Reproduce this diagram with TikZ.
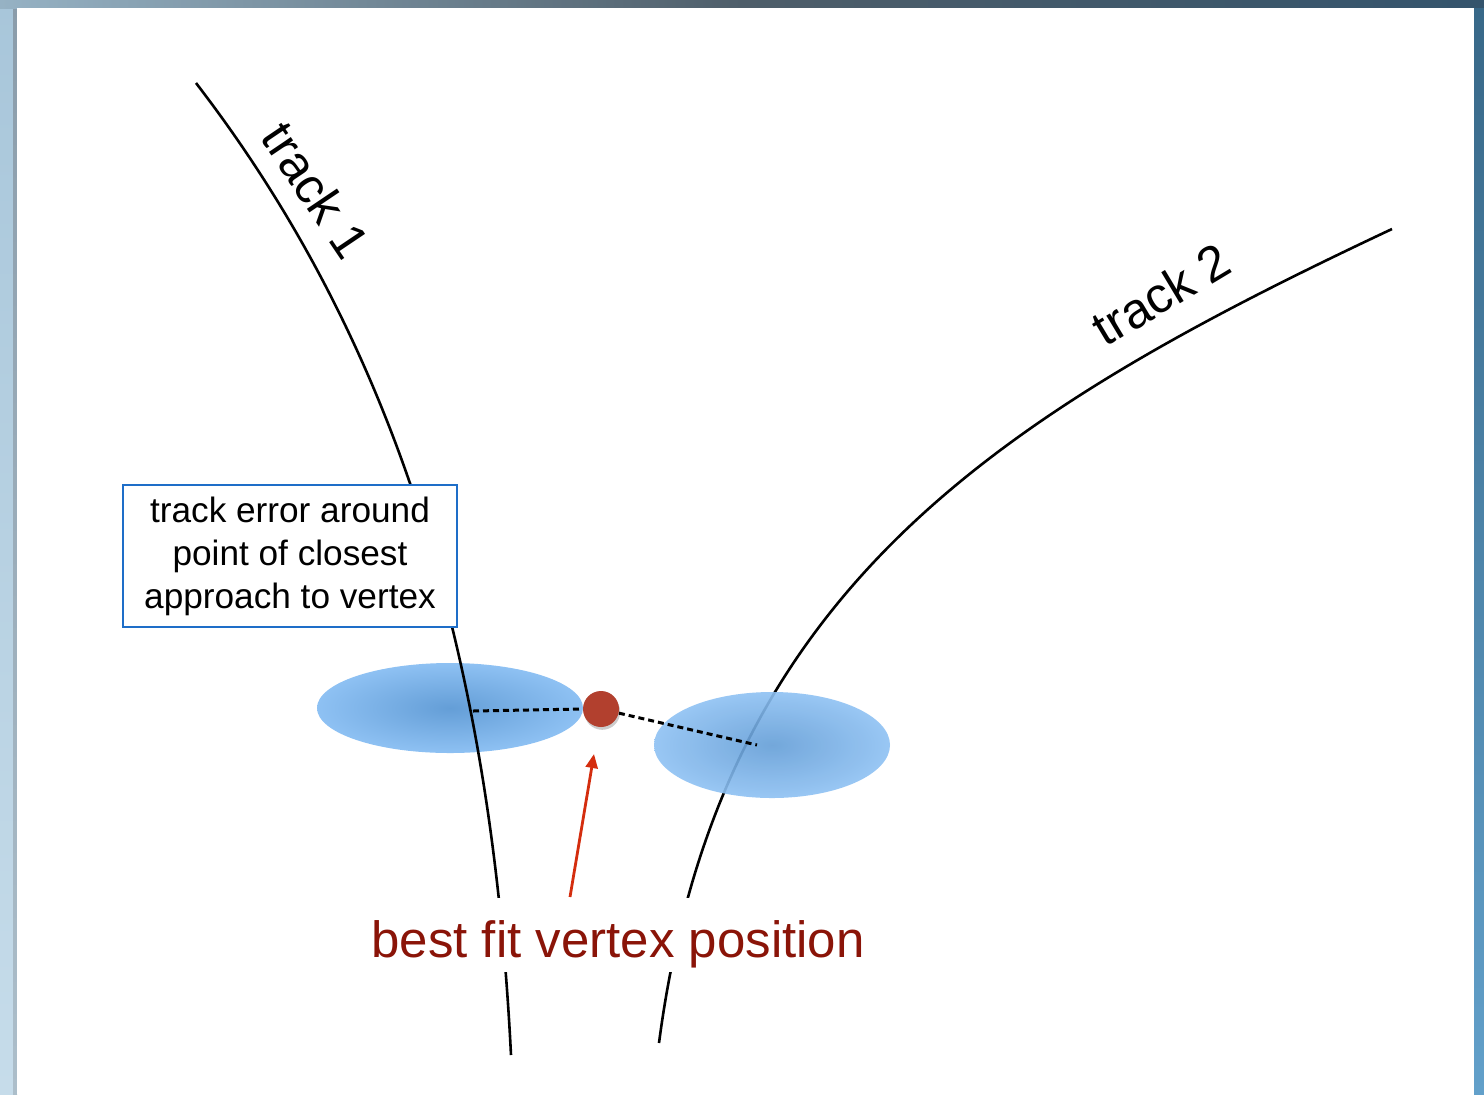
\documentclass[tikz,border=0pt]{standalone}
\usepackage{fontspec}
\setmainfont{Liberation Sans}
\usetikzlibrary{arrows.meta,shadows,shapes.geometric}
\definecolor{ellin}{RGB}{100,158,215}
\definecolor{ellout}{RGB}{142,193,243}
\definecolor{dotred}{RGB}{178,64,46}
\definecolor{arrred}{RGB}{212,45,14}
\definecolor{labred}{RGB}{138,20,8}
\definecolor{boxblue}{RGB}{30,110,200}
\definecolor{frameA}{RGB}{168,198,218}
\definecolor{frameB}{RGB}{198,220,234}
\definecolor{frameC}{RGB}{138,156,170}
\definecolor{frameD}{RGB}{172,190,202}
\definecolor{topA}{RGB}{150,178,196}
\definecolor{topB}{RGB}{78,94,106}
\definecolor{topC}{RGB}{52,84,108}
\definecolor{rightA}{RGB}{56,104,136}
\definecolor{rightB}{RGB}{98,160,202}
\tikzset{
  track/.style={line width=1.3pt, black},
  dotline/.style={line width=1.5pt, black, dash pattern=on 3pt off 2pt},
  errell/.style={ellipse, inner sep=0pt, shading=radial, inner color=ellin, outer color=ellout},
  infobox/.style={draw=boxblue, line width=1pt, fill=white, inner sep=0pt,
    minimum width=167pt, minimum height=71pt, align=center,
    font=\fontsize{17.6pt}{21.5pt}\selectfont},
  tracklabel/.style={font=\fontsize{25pt}{29pt}\selectfont, inner sep=0pt},
  redarrow/.style={line width=1.4pt, arrred, -{Triangle[length=7pt,width=6pt]}}
}
\begin{document}
\begin{tikzpicture}[x=0.5pt,y=-0.5pt]
\useasboundingbox (0,0) rectangle (1484,1094);
% frame
\shade[top color=frameA, bottom color=frameB] (0,0) rectangle (13,1094);
\shade[top color=frameC, bottom color=frameD] (13,0) rectangle (17,1094);
\shade[left color=topA, right color=topC, middle color=topB] (0,0) rectangle (1484,8);
\shade[top color=rightA, bottom color=rightB] (1474,8) rectangle (1484,1094);
\fill[white] (17,8) rectangle (1474,1094);

% left error ellipse (under track 1)
\node[errell, minimum width=133pt, minimum height=45pt] (e1) at (450,708) {};

% tracks
\coordinate (t1s) at (196,83);
\coordinate (t1e) at (511,1055);
\draw[track] (t1s) .. controls (396,343) and (491,655) .. (t1e);
\coordinate (t2s) at (659,1043);
\coordinate (t2e) at (1392,229);
\draw[track] (t2s) .. controls (718,593) and (992,417) .. (t2e);

% right error ellipse (over track 2)
\node[errell, minimum width=118pt, minimum height=53pt, opacity=0.9] (e2) at (772,745) {};

% info box
\node[infobox] (box) at (290,556) {track error around\\point of closest\\approach to vertex};

% label
\node[font=\fontsize{25.5pt}{30pt}\selectfont, text=labred, fill=white, inner xsep=2pt, inner ysep=0pt,
  text height=29.5pt, text depth=7.5pt, anchor=base] (lab) at (618,957) {best fit vertex position};

% dotted lines and vertex
\coordinate (p1) at (473,711);
\coordinate (p2) at (757,745);
\node[circle, fill=dotred, minimum size=18pt, inner sep=0pt,
  drop shadow={shadow xshift=0.6pt, shadow yshift=-1.4pt, opacity=0.4}] (dot) at (601,709) {};
\draw[dotline] (p1) -- (dot.west);
\draw[dotline] (dot) -- (p2);

% arrow
\coordinate (astart) at (570,897);
\coordinate (atip) at (594,754);
\draw[redarrow] (astart) -- (atip);

% track labels
\node[tracklabel, rotate=-56] (l1) at (316,190) {track 1};
\node[tracklabel, rotate=31] (l2) at (1161,294) {track 2};
\end{tikzpicture}
\end{document}
